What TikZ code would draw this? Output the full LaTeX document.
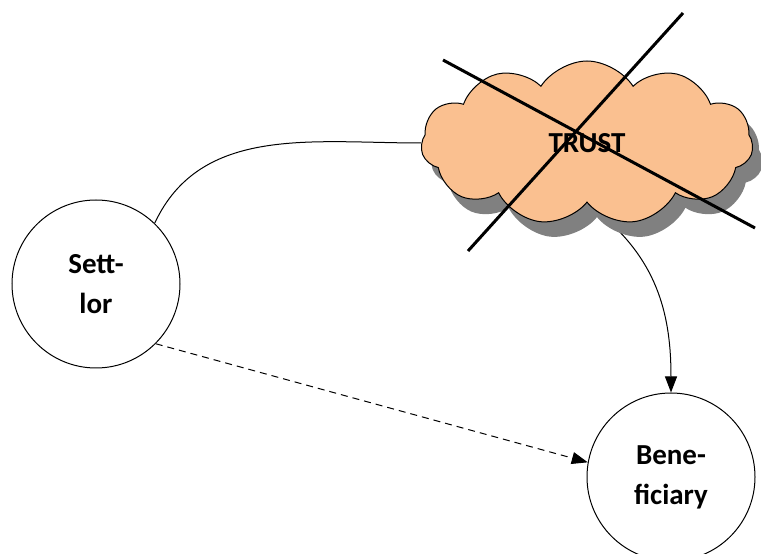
\documentclass[tikz,border=0pt]{standalone}
\usepackage{fontspec}
\setmainfont{Carlito}
\usetikzlibrary{shapes.symbols,shadows,arrows.meta,backgrounds}

\definecolor{cloudfill}{HTML}{FAC090}

\begin{document}
\begin{tikzpicture}[x=1pt,y=1pt]

    % styles
    \tikzstyle{party} = [circle,draw=black,line width=1pt,fill=white,
        minimum size=168pt,align=center,
        font=\bfseries\fontsize{29}{40}\selectfont]
    \tikzstyle{trustcloud} = [cloud,cloud puffs=11,cloud puff arc=115,
        draw=black,line width=1pt,fill=cloudfill,
        minimum width=332pt,minimum height=164pt,
        font=\bfseries\fontsize{29}{35}\selectfont,
        drop shadow={shadow xshift=10pt,shadow yshift=-15pt,
            fill=black!50,opacity=1}]
    \tikzstyle{link} = [line width=1pt]
    \tikzstyle{flow} = [link,-{Triangle[length=16pt,width=12pt]}]
    \tikzstyle{hint} = [flow,dash pattern=on 7pt off 5pt]
    \tikzstyle{cross} = [line width=3pt,line cap=butt]

    \useasboundingbox (0,0) rectangle (761,554);

    % parties
    \node[party] (settlor) at (96,270) {Sett-\\lor};
    \node[party] (beneficiary) at (671,77) {Bene-\\ficiary};

    % trust
    \node[trustcloud] (trust) at (587,411) {TRUST};

    % connectors
    \begin{scope}[on background layer]
        \draw[link] (settlor.46) to[out=65,in=180] (trust.west);
        \draw[flow] (trust.-78) to[out=-40,in=90] (beneficiary.north);
    \end{scope}
    \draw[hint] (settlor.-45) -- (beneficiary.170);

    % crossed out
    \coordinate (c1a) at (443,494);
    \coordinate (c1b) at (755,326);
    \coordinate (c2a) at (683,541);
    \coordinate (c2b) at (468,303);
    \draw[cross] (c1a) -- (c1b);
    \draw[cross] (c2a) -- (c2b);
\end{tikzpicture}
\end{document}
